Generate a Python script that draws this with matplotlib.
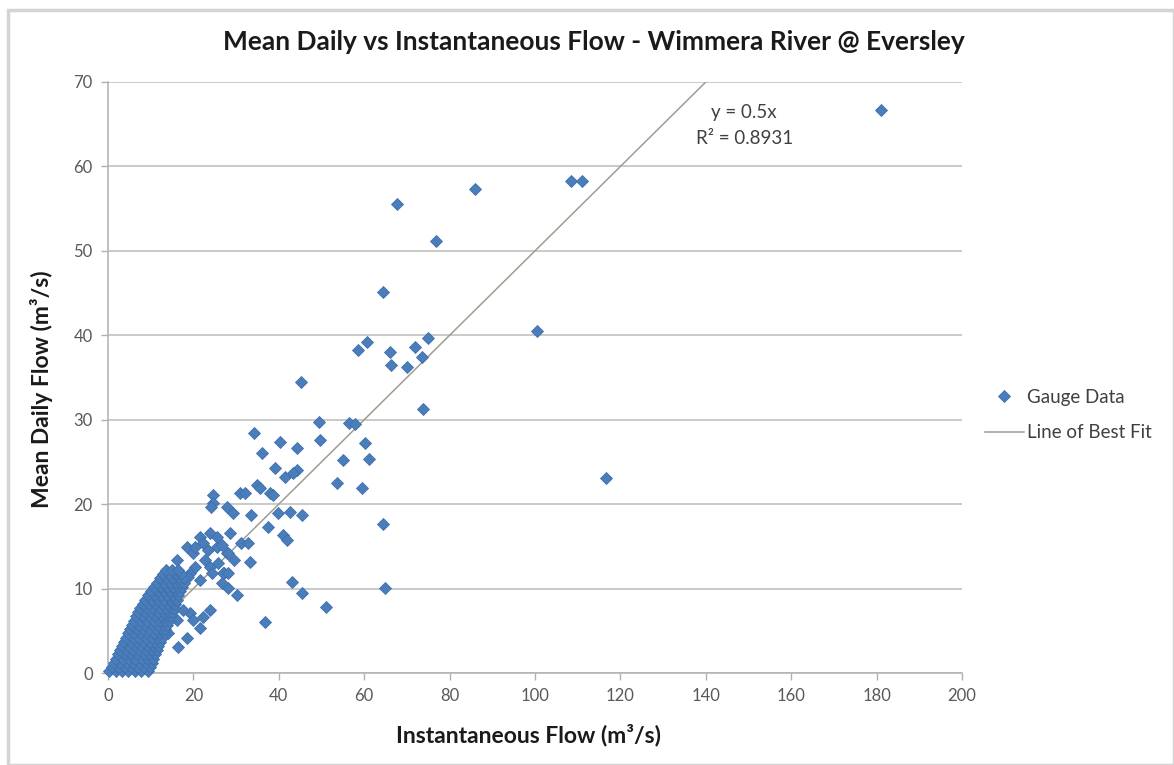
import matplotlib
matplotlib.use("Agg")
import matplotlib.pyplot as plt
from matplotlib.patches import Rectangle

# ---------------- data ----------------
# scattered gauge readings (instantaneous flow, mean daily flow)
scatter_x = [181.0, 86.0, 108.4, 111.0, 67.7, 76.8, 64.4, 100.5, 116.6,
             60.7, 58.5, 66.0, 71.9, 74.9, 66.3, 70.0, 73.5, 45.2, 73.8,
             49.4, 56.5, 57.8, 34.2, 40.3, 44.3, 49.6, 60.2, 36.1, 55.0,
             61.1, 39.1, 41.5, 44.3, 43.3, 53.6, 59.5, 64.4, 24.6, 24.6,
             24.2, 30.9, 32.1, 34.9, 35.6, 37.9, 38.6, 27.9, 29.3, 33.5,
             39.8, 42.6, 45.4, 37.4, 41.0, 41.9, 31.2, 32.7, 27.9, 25.5,
             33.3, 29.5, 27.2, 28.0, 30.2, 43.1, 45.4, 64.9, 51.0, 36.7,
             21.5, 18.5, 23.9, 16.1, 20.0, 22.2, 25.5, 28.5, 19.2, 23.9,
             21.5, 26.9, 23.9, 21.5, 22.2, 18.5, 16.4, 14.1, 12.9, 19.2,
             19.9, 17.6, 16.1, 20.4, 23.4, 26.7, 28.1, 22.7, 25.8, 20.4,
             24.4, 28.1, 26.7, 18.7]
scatter_y = [66.7, 57.3, 58.3, 58.3, 55.5, 51.2, 45.1, 40.5, 23.1,
             39.2, 38.3, 38.0, 38.6, 39.7, 36.5, 36.3, 37.4, 34.5, 31.3,
             29.7, 29.6, 29.5, 28.4, 27.4, 26.7, 27.6, 27.2, 26.1, 25.2,
             25.3, 24.3, 23.2, 24.0, 23.7, 22.5, 21.9, 17.7, 21.1, 20.1,
             19.7, 21.3, 21.3, 22.3, 21.9, 21.3, 21.1, 19.7, 19.0, 18.7,
             19.0, 19.1, 18.7, 17.3, 16.4, 15.8, 15.4, 15.4, 14.2, 14.9,
             13.2, 13.4, 11.8, 10.1, 9.2, 10.8, 9.5, 10.1, 7.8, 6.0,
             16.1, 14.9, 16.6, 13.4, 14.2, 15.4, 16.1, 16.6, 11.8, 12.6,
             11.0, 11.8, 7.5, 5.3, 6.6, 4.1, 3.1, 4.7, 5.5, 7.1,
             6.3, 7.5, 6.3, 14.9, 14.6, 15.2, 14.2, 13.4, 13.0, 12.6,
             11.8, 11.8, 10.7, 11.4]

# dense low-flow band: mean daily flow levels and the readings on each level
band_y = [0.2, 0.7, 1.2, 1.7, 2.2, 2.7, 3.2, 3.7, 4.2, 4.7, 5.2, 5.7, 6.2,
          6.7, 7.2, 7.7, 8.2, 8.7, 9.2, 9.7, 10.2, 10.7, 11.2, 11.7, 12.2]
band_x = [
    [0.3, 1.8, 3.3, 4.8, 6.3, 7.8, 9.3],
    [1.0, 2.5, 4.0, 5.5, 7.0, 8.5, 9.8],
    [1.4, 2.9, 4.4, 5.9, 7.4, 8.9, 10.2],
    [1.9, 3.4, 4.9, 6.4, 7.9, 9.4, 10.6],
    [2.4, 3.9, 5.4, 6.9, 8.4, 9.9, 11.0],
    [2.8, 4.3, 5.8, 7.3, 8.8, 10.3, 11.4],
    [3.3, 4.8, 6.3, 7.8, 9.3, 10.8, 11.8],
    [3.8, 5.3, 6.8, 8.3, 9.8, 11.2, 12.2],
    [4.3, 5.8, 7.3, 8.8, 10.3, 11.7, 12.6],
    [4.7, 6.2, 7.7, 9.2, 10.7, 12.1, 13.0],
    [5.2, 6.7, 8.2, 9.7, 11.2, 12.6, 13.4],
    [5.7, 7.2, 8.7, 10.2, 11.7, 13.0, 13.8],
    [6.2, 7.7, 9.2, 10.7, 12.2, 13.4, 14.2],
    [6.6, 8.1, 9.6, 11.1, 12.6, 13.9, 14.6],
    [7.1, 8.6, 10.1, 11.6, 13.1, 14.3, 15.0],
    [7.6, 9.1, 10.6, 12.1, 13.6, 14.8, 15.4],
    [8.1, 9.6, 11.1, 12.6, 14.1, 15.2, 15.8],
    [8.7, 10.2, 11.7, 13.2, 14.7, 15.7, 16.2],
    [9.4, 10.9, 12.4, 13.9, 15.3, 16.5],
    [10.1, 11.6, 13.1, 14.6, 15.9, 16.9],
    [10.8, 12.3, 13.8, 15.3, 16.5, 17.3],
    [11.5, 13.0, 14.5, 16.0, 17.0, 17.7],
    [12.2, 13.7, 15.2, 16.6, 17.8],
    [12.9, 14.4, 15.9, 17.2],
    [13.6, 15.0, 16.5],
]

fit_slope = 0.5
fit_r2 = 0.8931
x_ticks = [0, 20, 40, 60, 80, 100, 120, 140, 160, 180, 200]
y_ticks = [0, 10, 20, 30, 40, 50, 60, 70]

title = "Mean Daily vs Instantaneous Flow - Wimmera River @ Eversley"
x_label = "Instantaneous Flow (m³/s)"
y_label = "Mean Daily Flow (m³/s)"

# ---------------- build ----------------
gx = list(scatter_x)
gy = list(scatter_y)
for yv, row in zip(band_y, band_x):
    for xv in row:
        gx.append(xv)
        gy.append(yv)

plt.rcParams['font.family'] = ['Lato', 'DejaVu Sans']

W, H = 1174, 765
fig = plt.figure(figsize=(W / 100, H / 100), dpi=100)
fig.patch.set_facecolor('white')

# screenshot frame
fig.patches.append(Rectangle((8 / W, 0), 1 - 8 / W, 1 - 10 / H, transform=fig.transFigure,
                             fill=False, edgecolor='#d4d4d4', linewidth=2.5))

ax = fig.add_axes([108 / W, 1 - 673 / H, (962 - 108) / W, (673 - 82) / H])
ax.set_xlim(0, 200)
ax.set_ylim(0, 70)

ax.set_yticks(y_ticks)
ax.set_xticks(x_ticks)
ax.yaxis.grid(True, color='#bcbcbc', linewidth=1.1)
ax.set_axisbelow(True)
for s in ['top', 'right']:
    ax.spines[s].set_visible(False)
for s in ['left', 'bottom']:
    ax.spines[s].set_color('#b0b0b0')
    ax.spines[s].set_linewidth(1.1)
ax.tick_params(axis='both', direction='out', length=5, width=1, color='#b0b0b0',
               labelcolor='#595959', labelsize=12, pad=6)

fit_x = [0, 200]
fit_y = [fit_slope * v for v in fit_x]
ax.plot(fit_x, fit_y, color='#a09c92', linewidth=1.1, label='Line of Best Fit', zorder=2)
ax.plot(gx, gy, linestyle='none', marker='D', markersize=6.5, markerfacecolor='#4a7ebb',
        markeredgecolor='#3f6fae', markeredgewidth=0.6, label='Gauge Data', zorder=3,
        clip_on=False)

ax.text(149, 66.4, f"y = {fit_slope}x", ha='center', va='center', fontsize=13.5, color='#404040')
ax.text(149, 63.3, f"R² = {fit_r2}", ha='center', va='center', fontsize=13.5, color='#404040')

fig.text(594 / W, 1 - 42 / H, title, ha='center', va='center', fontsize=19,
         fontweight='bold', color='#1a1a1a')
fig.text(529 / W, 1 - 735 / H, x_label, ha='center', va='center', fontsize=16.5,
         fontweight='bold', color='#1a1a1a')
fig.text(42 / W, 1 - 389 / H, y_label, ha='center', va='center', fontsize=16.5,
         fontweight='bold', color='#1a1a1a', rotation=90)

handles, labels = ax.get_legend_handles_labels()
order = [1, 0]
leg = ax.legend([handles[i] for i in order], [labels[i] for i in order],
                loc='center left', bbox_to_anchor=(1.0, 0.4365), frameon=False,
                fontsize=13.5, handlelength=2.1, handletextpad=0.15, labelspacing=1.0,
                borderaxespad=0.8)
for t in leg.get_texts():
    t.set_color('#404040')

fig.savefig('out.png', dpi=100)
